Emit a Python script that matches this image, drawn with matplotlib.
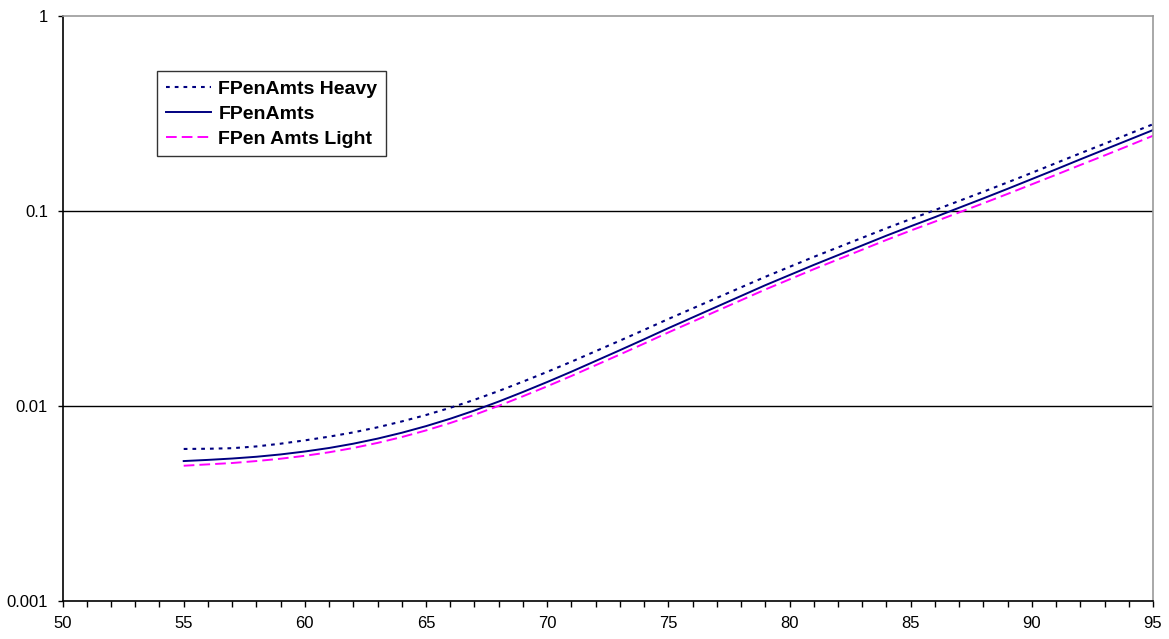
import numpy as np
import matplotlib.pyplot as plt
from matplotlib.ticker import FixedLocator, MultipleLocator, FixedFormatter

plt.rcParams['font.family'] = ['Liberation Sans', 'DejaVu Sans']

edades = list(range(55, 96))

heavy = [0.006012, 0.006026, 0.006067, 0.006194, 0.006397, 0.006653, 0.006950,
         0.007311, 0.007762, 0.008318, 0.008974, 0.009772, 0.010740, 0.011912,
         0.013305, 0.014928, 0.016827, 0.019055, 0.021577, 0.024491, 0.027861,
         0.031550, 0.035727, 0.040458, 0.045814, 0.051523, 0.057943, 0.064863,
         0.072611, 0.081283, 0.090573, 0.10069, 0.11220, 0.12503, 0.13964,
         0.15631, 0.17539, 0.19679, 0.22029, 0.24717, 0.27733]

base = [0.005212, 0.005284, 0.005370, 0.005483, 0.005636, 0.005834, 0.006081,
        0.006397, 0.006792, 0.007278, 0.007870, 0.008590, 0.009462, 0.010520,
        0.011776, 0.013243, 0.014962, 0.016982, 0.019275, 0.021928, 0.025003,
        0.028379, 0.032211, 0.036559, 0.041495, 0.046774, 0.052723, 0.059156,
        0.066374, 0.074473, 0.083176, 0.092683, 0.103514, 0.115611, 0.129420,
        0.145211, 0.162930, 0.183231, 0.205589, 0.230675, 0.258821]

light = [0.004932, 0.005012, 0.005093, 0.005212, 0.005358, 0.005546, 0.005781,
         0.006081, 0.006457, 0.006918, 0.007482, 0.008166, 0.008995, 0.010000,
         0.011194, 0.012589, 0.014223, 0.016144, 0.018323, 0.020845, 0.023768,
         0.026977, 0.030620, 0.034754, 0.039446, 0.044463, 0.050119, 0.056234,
         0.063096, 0.070795, 0.079068, 0.087902, 0.097949, 0.10914, 0.12190,
         0.13646, 0.15276, 0.17140, 0.19187, 0.21528, 0.24210]

nombres = ["FPenAmts Heavy", "FPenAmts", "FPen Amts Light"]
y_ticks = [0.001, 0.01, 0.1, 1]
y_labels = ["0.001", "0.01", "0.1", "1"]

fig = plt.figure(figsize=(11.69, 6.39), dpi=100)
ax = fig.add_axes([0.0535, 0.0595, 0.9328, 0.9162])

ax.plot(edades, heavy, color="#000080", lw=1.5, linestyle=(0, (1.8, 2.4)),
        dash_capstyle="butt", label=nombres[0])
ax.plot(edades, base, color="#000080", lw=1.4, label=nombres[1])
ax.plot(edades, light, color="#FF00FF", lw=1.4, linestyle=(0, (5.5, 2.6)),
        label=nombres[2])

ax.set_yscale("log")
ax.set_ylim(0.001, 1)
ax.set_xlim(50, 95)
ax.yaxis.set_major_locator(FixedLocator(y_ticks))
ax.yaxis.set_major_formatter(FixedFormatter(y_labels))
ax.yaxis.set_minor_locator(FixedLocator([]))
ax.xaxis.set_major_locator(MultipleLocator(5))
ax.xaxis.set_minor_locator(MultipleLocator(1))

ax.tick_params(axis="both", which="major", direction="out", width=1,
               labelsize=12, colors="black")
ax.tick_params(axis="x", which="both", length=4.5, width=1, pad=6)
ax.tick_params(axis="y", which="major", length=3.5, pad=7)

for y in [0.01, 0.1]:
    ax.axhline(y, color="black", lw=1.0, zorder=0)

ax.spines["top"].set_color("#999999")
ax.spines["right"].set_color("#999999")
ax.spines["left"].set_color("black")
ax.spines["bottom"].set_color("black")
for s in ax.spines.values():
    s.set_linewidth(1.2)

leg = ax.legend(loc="upper left", bbox_to_anchor=(0.0867, 0.905),
                prop={"weight": "bold", "size": 14}, frameon=True,
                fancybox=False, handlelength=2.3, handletextpad=0.4,
                borderpad=0.45, labelspacing=0.38, borderaxespad=0)
leg.get_frame().set_edgecolor("black")
leg.get_frame().set_linewidth(1.0)

fig.savefig("out.png", dpi=100)
